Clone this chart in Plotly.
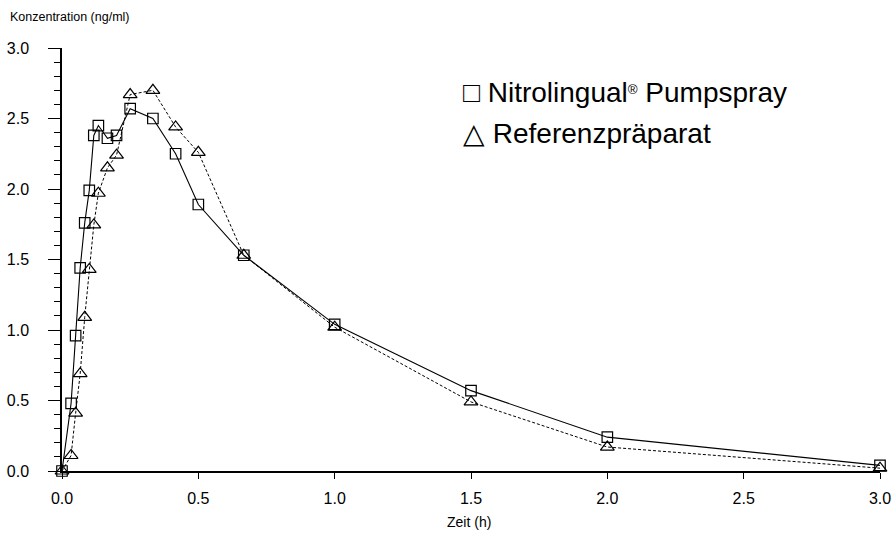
import plotly.graph_objects as go

# time in hours
time_h = [0, 2/60, 3/60, 4/60, 5/60, 6/60, 7/60, 8/60, 10/60, 12/60, 15/60,
          20/60, 25/60, 30/60, 40/60, 1.0, 1.5, 2.0, 3.0]
nitro = [0.0, 0.48, 0.96, 1.44, 1.76, 1.99, 2.38, 2.45, 2.36, 2.38, 2.57,
         2.50, 2.25, 1.89, 1.53, 1.04, 0.57, 0.24, 0.04]
referenz = [0.0, 0.11, 0.41, 0.69, 1.09, 1.43, 1.745, 1.97, 2.15, 2.24, 2.67,
            2.70, 2.44, 2.26, 1.53, 1.02, 0.49, 0.17, 0.02]
tick_vals = [0, 0.5, 1, 1.5, 2, 2.5, 3]
tick_text = ["0.0", "0.5", "1.0", "1.5", "2.0", "2.5", "3.0"]

FONT = "Liberation Sans, Arial, sans-serif"

fig = go.Figure()
fig.add_trace(go.Scatter(
    x=time_h, y=referenz, mode="lines+markers", name="Referenzpräparat",
    line=dict(color="black", width=1, dash="3px,2px"),
    marker=dict(symbol="triangle-up-open", size=12, color="black", line=dict(width=1.2)),
    cliponaxis=False, showlegend=False))
fig.add_trace(go.Scatter(
    x=time_h, y=nitro, mode="lines+markers", name="Nitrolingual® Pumpspray",
    line=dict(color="black", width=1.1),
    marker=dict(symbol="square-open", size=10.5, color="black", line=dict(width=1.2)),
    cliponaxis=False, showlegend=False))

fig.update_layout(
    width=892, height=533,
    margin=dict(l=62, r=12, t=48, b=62, autoexpand=False),
    paper_bgcolor="white", plot_bgcolor="white",
    font=dict(family=FONT, color="black"),
    xaxis=dict(range=[0, 3], tickvals=tick_vals, ticktext=tick_text, automargin=False,
               showgrid=False, zeroline=False, showline=True, linecolor="black", linewidth=1.5,
               ticks="outside", ticklen=6, tickcolor="black", tickwidth=1.2,
               ticklabelstandoff=6, tickfont=dict(size=16)),
    yaxis=dict(range=[0, 3], tickvals=tick_vals, ticktext=tick_text, automargin=False,
               showgrid=False, zeroline=False, showline=True, linecolor="black", linewidth=1.5,
               ticks="outside", ticklen=12, tickcolor="black", tickwidth=1.2,
               ticklabelstandoff=16, tickfont=dict(size=16),
               minor=dict(dtick=0.1, ticks="outside", ticklen=6, tickcolor="black",
                          tickwidth=1.2, showgrid=False)),
    annotations=[
        dict(text="Konzentration (ng/ml)", xref="paper", yref="paper", x=-0.066, y=1.073,
             xanchor="left", yanchor="middle", showarrow=False,
             font=dict(size=12.5, family=FONT)),
        dict(text="Zeit (h)", xref="paper", yref="paper", x=0.497, y=-0.1206,
             xanchor="center", yanchor="middle", showarrow=False,
             font=dict(size=14, family=FONT)),
        dict(text="□ Nitrolingual<span style='font-size:19px'><sup>®</sup></span> Pumpspray",
             xref="paper", yref="paper",
             x=0.488, y=0.894, xanchor="left", yanchor="middle", showarrow=False,
             font=dict(size=28, family=FONT)),
        dict(text="△ Referenzpräparat", xref="paper", yref="paper",
             x=0.488, y=0.799, xanchor="left", yanchor="middle", showarrow=False,
             font=dict(size=28, family=FONT)),
    ],
)

fig.write_html("out.html", config={"displayModeBar": False},
               post_script="document.body.style.margin='0';document.body.style.overflow='hidden';")
